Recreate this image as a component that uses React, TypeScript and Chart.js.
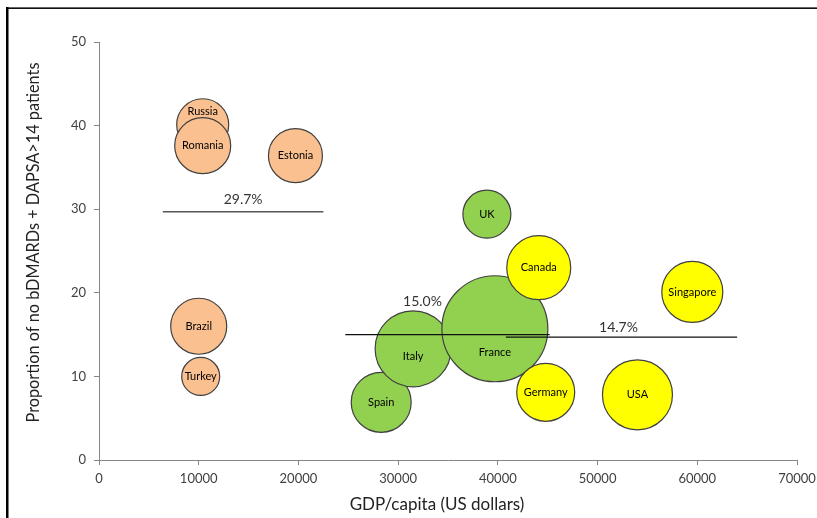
import React, { useEffect, useRef } from "react";
import { Chart, registerables } from "chart.js";

Chart.register(...registerables);

// ---- Data ----
const orangeNames = ["Russia", "Romania", "Estonia", "Brazil", "Turkey"];
const orangeGdp = [10400, 10400, 19700, 10000, 10200];
const orangePct = [40.1, 37.6, 36.4, 16.0, 10.0];
const orangeSize = [26, 28, 27, 28, 19];

const greenNames = ["Spain", "Italy", "France", "UK"];
const greenGdp = [28300, 31500, 39700, 38900];
const greenPct = [6.9, 13.3, 15.7, 29.4];
const greenSize = [30, 38, 53, 24];

const yellowNames = ["Canada", "Singapore", "Germany", "USA"];
const yellowGdp = [44100, 59500, 44800, 54000];
const yellowPct = [23.0, 20.1, 8.1, 7.8];
const yellowSize = [32, 30.5, 29, 35];

const meanLabels = ["29.7%", "15.0%", "14.7%"];
const meanValues = [29.7, 15.0, 14.7];
const meanFrom = [6400, 24700, 40800];
const meanTo = [22500, 45200, 64000];

const xTicks = [0, 10000, 20000, 30000, 40000, 50000, 60000, 70000];
const yTicks = [0, 10, 20, 30, 40, 50];

const xTitle = "GDP/capita (US dollars)";
const yTitle = "Proportion of no bDMARDs + DAPSA>14 patients";

// ---- Style ----
const FONT = "Lato, 'Open Sans', sans-serif";
const labelNudgeY: Record<string, number> = { Russia: -13, France: 24, Italy: 8 };
const meanLabelNudge = [
  { dx: 0, dy: -12 },
  { dx: -25, dy: -33 },
  { dx: -3, dy: -10 },
];
const meanLineColors = ["#555555", "#111111", "#111111"];

function bubbles(g: number[], p: number[], s: number[]) {
  return g.map((x, i) => ({ x, y: p[i], r: s[i] }));
}

const labelPlugin = {
  id: "labels",
  afterDatasetsDraw(chart: any) {
    const ctx = chart.ctx;
    ctx.save();
    ctx.fillStyle = "#000";
    ctx.font = `11px ${FONT}`;
    ctx.textAlign = "center";
    ctx.textBaseline = "middle";
    chart.data.datasets.forEach((ds: any, di: number) => {
      if (!ds.names) return;
      const meta = chart.getDatasetMeta(di);
      meta.data.forEach((el: any, i: number) => {
        const name = ds.names[i];
        ctx.fillText(name, el.x, el.y + (labelNudgeY[name] || 0));
      });
    });
    const xs = chart.scales.x;
    const ys = chart.scales.y;
    ctx.font = `14px ${FONT}`;
    ctx.fillStyle = "#333";
    meanLabels.forEach((t, i) => {
      const mx = (xs.getPixelForValue(meanFrom[i]) + xs.getPixelForValue(meanTo[i])) / 2;
      const my = ys.getPixelForValue(meanValues[i]);
      ctx.fillText(t, mx + meanLabelNudge[i].dx, my + meanLabelNudge[i].dy);
    });
    ctx.restore();
  },
  afterDraw(chart: any) {
    const ctx = chart.ctx;
    ctx.save();
    ctx.fillStyle = "#222";
    ctx.textAlign = "center";
    ctx.textBaseline = "alphabetic";
    ctx.font = `17px ${FONT}`;
    ctx.fillText(xTitle, 437, 510);
    ctx.font = `16.3px ${FONT}`;
    ctx.translate(39, 242.5);
    ctx.rotate(-Math.PI / 2);
    ctx.fillText(yTitle, 0, 0);
    ctx.restore();
    ctx.save();
    ctx.fillStyle = "#666";
    ctx.fillRect(6, 7, 811, 1);
    ctx.fillStyle = "#111";
    ctx.fillRect(6, 8, 811, 1);
    ctx.fillStyle = "#000";
    ctx.fillRect(6, 7, 2.5, 511);
    ctx.restore();
  },
};

export default function App() {
  const ref = useRef<HTMLCanvasElement>(null);
  useEffect(() => {
    if (!ref.current) return;
    const border = "#404040";
    const lineSets = meanValues.map((v, i) => ({
      type: "line" as const,
      data: [
        { x: meanFrom[i], y: v },
        { x: meanTo[i], y: v },
      ],
      borderColor: meanLineColors[i],
      borderWidth: i === 0 ? 1.6 : 1.3,
      pointRadius: 0,
      fill: false,
      order: 0,
    }));
    const chart = new Chart(ref.current, {
      type: "bubble",
      data: {
        datasets: [
          ...lineSets,
          {
            type: "bubble",
            names: yellowNames,
            data: bubbles(yellowGdp, yellowPct, yellowSize),
            backgroundColor: "#FFFF00",
            borderColor: border,
            borderWidth: 1.2,
            order: 1,
          } as any,
          {
            type: "bubble",
            names: greenNames,
            data: bubbles(greenGdp, greenPct, greenSize),
            backgroundColor: "#92D050",
            borderColor: border,
            borderWidth: 1.2,
            order: 2,
          } as any,
          {
            type: "bubble",
            names: orangeNames,
            data: bubbles(orangeGdp, orangePct, orangeSize),
            backgroundColor: "#FAC08F",
            borderColor: border,
            borderWidth: 1.2,
            order: 3,
          } as any,
        ],
      },
      options: {
        responsive: false,
        animation: false,
        devicePixelRatio: 1,
        layout: { autoPadding: false, padding: { left: 0, top: 42, right: 20, bottom: 0 } },
        plugins: { legend: { display: false }, tooltip: { enabled: false } },
        scales: {
          x: {
            type: "linear",
            min: xTicks[0],
            max: xTicks[xTicks.length - 1],
            afterFit: (s: any) => {
              s.height = 58;
              s.paddingLeft = 0;
              s.paddingRight = 0;
            },
            afterBuildTicks: (s: any) => {
              s.ticks = xTicks.map((v) => ({ value: v }));
            },
            ticks: {
              callback: (v: any) => String(v),
              color: "#404040",
              font: { family: FONT, size: 13 },
              padding: 6,
              maxRotation: 0,
            },
            grid: { drawOnChartArea: false, drawTicks: true, tickLength: 5, color: "#868686" },
            border: { display: true, color: "#868686", width: 1 },
          },
          y: {
            type: "linear",
            min: yTicks[0],
            max: yTicks[yTicks.length - 1],
            afterFit: (s: any) => {
              s.width = 99;
              s.paddingTop = 0;
              s.paddingBottom = 0;
            },
            afterBuildTicks: (s: any) => {
              s.ticks = yTicks.map((v) => ({ value: v }));
            },
            ticks: {
              callback: (v: any) => String(v),
              color: "#404040",
              font: { family: FONT, size: 13 },
              padding: 8,
            },
            grid: { drawOnChartArea: false, drawTicks: true, tickLength: 5, color: "#868686" },
            border: { display: true, color: "#868686", width: 1 },
          },
        },
      } as any,
      plugins: [labelPlugin],
    });
    return () => chart.destroy();
  }, []);
  return (
    <div style={{ position: "absolute", left: 0, top: 0, width: 817, height: 518, background: "#fff" }}>
      <canvas ref={ref} width={817} height={518} style={{ display: "block" }} />
    </div>
  );
}
